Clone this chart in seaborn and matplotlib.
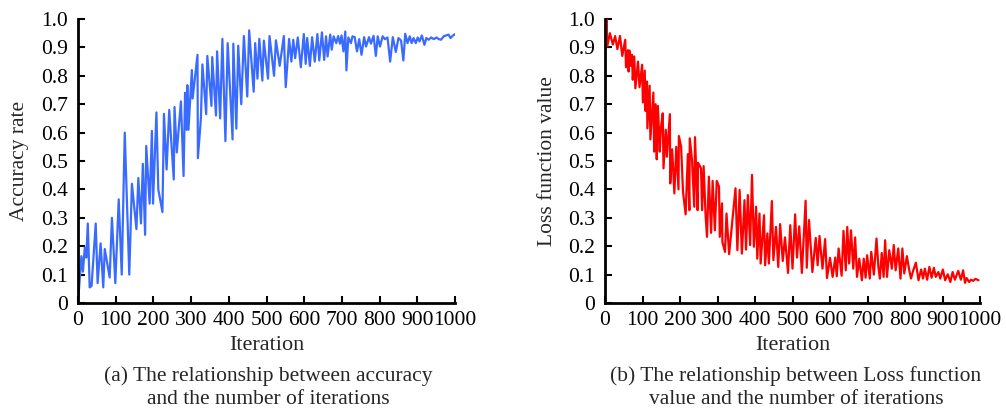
import numpy as np
import pandas as pd
import matplotlib
matplotlib.use("Agg")
import matplotlib.pyplot as plt
import seaborn as sns

# ---- data ----
acc_iter = [0, 9, 13, 18, 22, 26, 31, 36, 47, 52, 60, 67, 71, 84, 90, 99, 108, 116, 124, 136,
            143, 155, 160, 167, 172, 178, 181, 190, 196, 199, 208, 213, 224, 228, 235, 242, 254, 256,
            262, 273, 280, 284, 288, 290, 293, 302, 304, 317, 318, 326, 330, 340, 343, 354, 356,
            366, 369, 377, 383, 391, 397, 410, 412, 420, 425, 433, 440, 449, 454, 466, 470, 476,
            481, 489, 493, 504, 508, 520, 525, 535, 546, 551, 560, 566, 571, 576, 583, 591, 599,
            604, 608, 615, 621, 628, 635, 640, 647, 653, 658, 662, 669, 673, 678, 685, 690, 695,
            699, 704, 709, 712, 717, 724, 728, 734, 740, 746, 752, 759, 764, 772, 777, 784, 790,
            795, 801, 808, 814, 821, 828, 835, 843, 850, 857, 863, 868, 874, 880, 885, 890, 896,
            901, 906, 912, 919, 924, 930, 937, 944, 951, 957, 963, 970, 976, 983, 988, 994, 1000]
acc_val = [0.0, 0.165, 0.11, 0.195, 0.16, 0.28, 0.055, 0.06, 0.28, 0.07, 0.21, 0.055, 0.19, 0.09,
           0.30, 0.07, 0.365, 0.10, 0.60, 0.10, 0.42, 0.26, 0.44, 0.28, 0.49, 0.24, 0.553, 0.35,
           0.606, 0.35, 0.671, 0.40, 0.32, 0.666, 0.47, 0.68, 0.435, 0.69, 0.53, 0.71, 0.447,
           0.74, 0.61, 0.767, 0.61, 0.82, 0.72, 0.874, 0.51, 0.65, 0.84, 0.665, 0.87, 0.694,
           0.866, 0.66, 0.886, 0.65, 0.93, 0.57, 0.915, 0.576, 0.913, 0.614, 0.906, 0.70, 0.94,
           0.727, 0.96, 0.744, 0.915, 0.79, 0.93, 0.783, 0.924, 0.79, 0.94, 0.80, 0.925, 0.835,
           0.94, 0.76, 0.93, 0.85, 0.927, 0.862, 0.935, 0.83, 0.947, 0.842, 0.933, 0.835, 0.936,
           0.85, 0.947, 0.854, 0.953, 0.856, 0.939, 0.868, 0.945, 0.892, 0.939, 0.915, 0.94,
           0.913, 0.942, 0.886, 0.956, 0.819, 0.935, 0.915, 0.939, 0.936, 0.886, 0.929, 0.874,
           0.936, 0.903, 0.936, 0.913, 0.941, 0.87, 0.939, 0.903, 0.939, 0.929, 0.935, 0.85,
           0.936, 0.884, 0.933, 0.924, 0.854, 0.948, 0.915, 0.939, 0.915, 0.933, 0.915, 0.935,
           0.921, 0.942, 0.909, 0.933, 0.927, 0.935, 0.929, 0.935, 0.929, 0.927, 0.939, 0.942,
           0.945, 0.933, 0.941, 0.947]

loss_iter = [0, 2, 4, 6, 13, 21, 27, 33, 40, 46, 54, 56, 61, 63, 65, 69, 72, 74, 78, 81, 88, 92,
             99, 101, 106, 108, 112, 113, 119, 121, 129, 131, 135, 138, 141, 146, 149, 154, 156,
             162, 165, 173, 174, 179, 185, 190, 196, 197, 203, 208, 215, 221, 225, 226, 232, 238,
             240, 247, 248, 256, 259, 263, 268, 272, 277, 283, 287, 293, 298, 304, 306, 312, 313,
             320, 324, 331, 348, 353, 359, 365, 372, 376, 381, 387, 392, 397, 403, 406, 412, 415,
             424, 427, 433, 437, 445, 449, 456, 462, 467, 474, 480, 488, 494, 500, 507, 512, 518,
             525, 535, 538, 544, 553, 562, 567, 572, 580, 587, 592, 600, 607, 614, 618, 623, 631,
             636, 642, 646, 651, 656, 662, 667, 672, 678, 685, 690, 695, 699, 706, 710, 717, 724,
             729, 733, 738, 743, 747, 752, 758, 765, 770, 775, 782, 788, 793, 798, 805, 811, 816,
             822, 829, 836, 843, 848, 853, 859, 865, 871, 877, 882, 889, 894, 901, 907, 914, 921,
             927, 933, 942, 949, 955, 960, 964, 971, 976, 982, 988, 996]
loss_val = [0.93, 0.894, 1.0, 0.904, 0.95, 0.91, 0.94, 0.894, 0.94, 0.87, 0.927, 0.83, 0.89,
            0.815, 0.889, 0.835, 0.874, 0.786, 0.868, 0.756, 0.85, 0.76, 0.839, 0.706, 0.818,
            0.676, 0.78, 0.615, 0.765, 0.576, 0.741, 0.533, 0.70, 0.506, 0.694, 0.533, 0.615,
            0.668, 0.474, 0.61, 0.515, 0.665, 0.421, 0.541, 0.386, 0.55, 0.40, 0.588, 0.55,
            0.392, 0.312, 0.524, 0.327, 0.58, 0.504, 0.339, 0.584, 0.327, 0.494, 0.474, 0.327,
            0.482, 0.315, 0.233, 0.445, 0.247, 0.43, 0.256, 0.43, 0.41, 0.233, 0.351, 0.215,
            0.18, 0.315, 0.172, 0.404, 0.186, 0.398, 0.174, 0.362, 0.188, 0.38, 0.204, 0.451,
            0.198, 0.339, 0.156, 0.315, 0.139, 0.309, 0.133, 0.245, 0.139, 0.359, 0.151, 0.268,
            0.127, 0.278, 0.148, 0.231, 0.106, 0.274, 0.121, 0.312, 0.16, 0.27, 0.106, 0.36,
            0.124, 0.292, 0.109, 0.229, 0.133, 0.236, 0.121, 0.225, 0.088, 0.159, 0.092, 0.16,
            0.094, 0.192, 0.096, 0.254, 0.115, 0.268, 0.139, 0.256, 0.121, 0.231, 0.092, 0.156,
            0.08, 0.156, 0.089, 0.168, 0.086, 0.18, 0.10, 0.227, 0.127, 0.086, 0.176, 0.092,
            0.221, 0.092, 0.186, 0.121, 0.204, 0.115, 0.192, 0.086, 0.192, 0.104, 0.165, 0.118,
            0.086, 0.115, 0.142, 0.08, 0.118, 0.086, 0.121, 0.082, 0.127, 0.089, 0.124, 0.092,
            0.109, 0.086, 0.118, 0.08, 0.101, 0.074, 0.109, 0.082, 0.113, 0.082, 0.115, 0.071,
            0.088, 0.074, 0.082, 0.078, 0.085, 0.08]

x_ticks = [0, 100, 200, 300, 400, 500, 600, 700, 800, 900, 1000]
y_ticks = [0, 0.1, 0.2, 0.3, 0.4, 0.5, 0.6, 0.7, 0.8, 0.9, 1.0]
y_tick_labels = ["0", "0.1", "0.2", "0.3", "0.4", "0.5", "0.6", "0.7", "0.8", "0.9", "1.0"]

acc_df = pd.DataFrame({"Iteration": acc_iter, "Accuracy": acc_val})
loss_df = pd.DataFrame({"Iteration": loss_iter, "Loss": loss_val})

sns.set_style("ticks")
plt.rcParams["font.family"] = ["Liberation Serif", "DejaVu Serif"]

fig = plt.figure(figsize=(10.06, 4.11), dpi=100)
W, H = 1006, 411
AX_TOP, AX_BOT = 19, 303
ax1 = fig.add_axes([78 / W, 1 - AX_BOT / H, (455 - 78) / W, (AX_BOT - AX_TOP) / H])
ax2 = fig.add_axes([605 / W, 1 - AX_BOT / H, (980 - 605) / W, (AX_BOT - AX_TOP) / H])

sns.lineplot(data=acc_df, x="Iteration", y="Accuracy", ax=ax1, color="#3a6bff", linewidth=1.6)
sns.lineplot(data=loss_df, x="Iteration", y="Loss", ax=ax2, color="#ff0000", linewidth=1.6)

axh = AX_BOT - AX_TOP
for ax, ylabel, ylab_x, axw, axl in [(ax1, "Accuracy rate", 20, 377, 78),
                                     (ax2, "Loss function value", 548, 375, 605)]:
    ax.set_xlim(0, 1000)
    ax.set_ylim(0, 1.0)
    ax.set_xticks(x_ticks)
    ax.set_xticklabels([str(t) for t in x_ticks])
    ax.set_yticks(y_ticks)
    ax.set_yticklabels(y_tick_labels)
    ax.tick_params(axis="both", direction="in", length=5, width=1.5, labelsize=15.5,
                   colors="black")
    ax.tick_params(axis="x", pad=6)
    ax.tick_params(axis="y", pad=7)
    for s in ["top", "right"]:
        ax.spines[s].set_visible(False)
    for s in ["left", "bottom"]:
        ax.spines[s].set_linewidth(2)
        ax.spines[s].set_color("black")
    ax.set_xlabel("Iteration", fontsize=16, va="center")
    ax.xaxis.set_label_coords(0.5, (AX_BOT - 345) / axh)
    ax.set_ylabel(ylabel, fontsize=15.5, va="center")
    ax.yaxis.set_label_coords((ylab_x - axl) / axw, 0.5)
    ax.set_facecolor("white")

fig.text(268 / W, 1 - 376 / H, "(a) The relationship between accuracy", ha="center",
         va="center", fontsize=15.5)
fig.text(268 / W, 1 - 399 / H, "and the number of iterations", ha="center",
         va="center", fontsize=15.5)
fig.text(796 / W, 1 - 376 / H, "(b) The relationship between Loss function", ha="center",
         va="center", fontsize=15.5)
fig.text(796 / W, 1 - 399 / H, "value and the number of iterations", ha="center",
         va="center", fontsize=15.5)

fig.savefig("out.png", dpi=100, facecolor="white")
